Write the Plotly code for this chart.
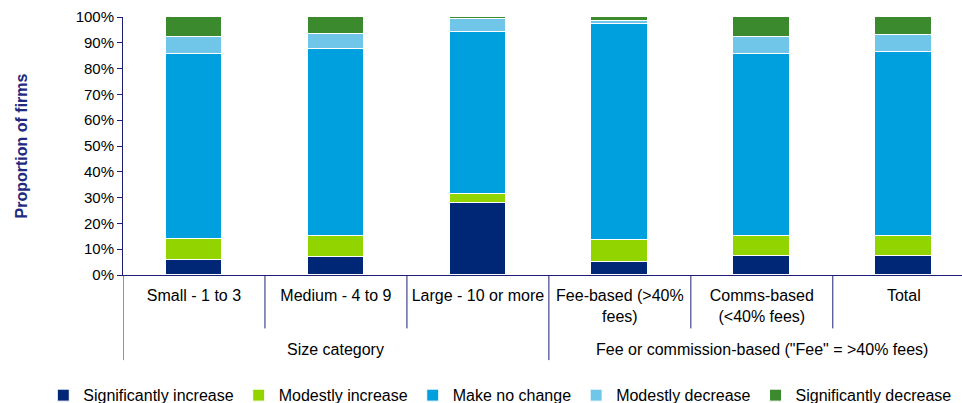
import plotly.graph_objects as go

# Categories along the x axis
categories = ["Small - 1 to 3", "Medium - 4 to 9", "Large - 10 or more",
              "Fee-based (>40%<br>fees)", "Comms-based<br>(<40% fees)", "Total"]

# Group labels under the categories
group_names = ["Size category", "Fee or commission-based (\"Fee\" = >40% fees)"]
group_centers = [1, 4]

# Share of firms (%) per response
series_names = ["Significantly increase", "Modestly increase", "Make no change",
                "Modestly decrease", "Significantly decrease"]
sig_increase = [5.8, 7.0, 27.9, 5.0, 7.5, 7.5]
mod_increase = [8.2, 8.1, 3.6, 8.4, 7.5, 7.5]
no_change = [71.8, 72.4, 62.6, 84.0, 70.8, 71.6]
mod_decrease = [6.3, 6.1, 5.1, 1.2, 6.4, 6.6]
sig_decrease = [7.9, 6.4, 0.8, 1.4, 7.8, 6.8]

# Y axis ticks
y_ticks = list(range(0, 101, 10))
y_tick_labels = [f"{v}%" for v in y_ticks]

colors = ["#002776", "#92D400", "#00A0DF", "#6FC6E8", "#3C8A2E"]
series_values = [sig_increase, mod_increase, no_change, mod_decrease, sig_decrease]

AXIS = "#1E1E78"
FONT = "Liberation Sans, Arial, sans-serif"

x_pos = list(range(len(categories)))

fig = go.Figure()
for name, vals, col in zip(series_names, series_values, colors):
    fig.add_trace(go.Bar(
        x=x_pos, y=vals, name=name,
        marker=dict(color=col, line=dict(color="white", width=1)),
        width=0.4,
    ))

# Divider lines below the category axis
shapes = []
for xv, y_end in [(-0.5, -0.33), (0.5, -0.207), (1.5, -0.207), (2.5, -0.33),
                  (3.5, -0.207), (4.5, -0.207)]:
    shapes.append(dict(type="line", xref="x", yref="paper", x0=xv, x1=xv,
                       y0=0, y1=y_end, line=dict(color=AXIS, width=1)))

annotations = []
for name, cx in zip(group_names, group_centers):
    annotations.append(dict(x=cx, y=-0.287, xref="x", yref="paper",
                            text=name, showarrow=False,
                            font=dict(size=16, color="#000000", family=FONT),
                            yanchor="middle"))

fig.update_layout(
    width=962, height=403,
    margin=dict(l=123, r=0, t=17, b=128, autoexpand=False),
    barmode="stack",
    bargap=0,
    plot_bgcolor="white",
    paper_bgcolor="white",
    font=dict(family=FONT, size=15, color="#000000"),
    showlegend=True,
    legend=dict(orientation="h", x=-0.095, xanchor="left", xref="paper",
                y=-0.466, yref="paper", yanchor="middle",
                font=dict(size=16, family=FONT), itemwidth=30,
                traceorder="normal"),
    shapes=shapes,
    annotations=annotations,
    xaxis=dict(
        range=[-0.5, 5.41], tickvals=x_pos, ticktext=categories,
        showline=True, linecolor=AXIS, linewidth=1, ticks="",
        showgrid=False, zeroline=False, fixedrange=True,
        tickfont=dict(size=16, family=FONT), ticklabelstandoff=6,
    ),
    yaxis=dict(
        range=[0, 100], tickvals=y_ticks, ticktext=y_tick_labels,
        showline=True, linecolor=AXIS, linewidth=1,
        ticks="outside", ticklen=5, tickcolor=AXIS,
        showgrid=False, zeroline=False,
        title=dict(text="<b>Proportion of firms</b>", standoff=44,
                   font=dict(size=16, color="#1F2A80", family=FONT)),
        tickfont=dict(size=15, family=FONT),
    ),
    yaxis2=dict(
        range=[0, 100], tickvals=y_ticks, overlaying="y",
        side="left", anchor="x", showticklabels=False, showline=False,
        ticks="inside", ticklen=4, tickcolor=AXIS, showgrid=False,
        zeroline=False,
    ),
)

fig.write_html("out.html")
